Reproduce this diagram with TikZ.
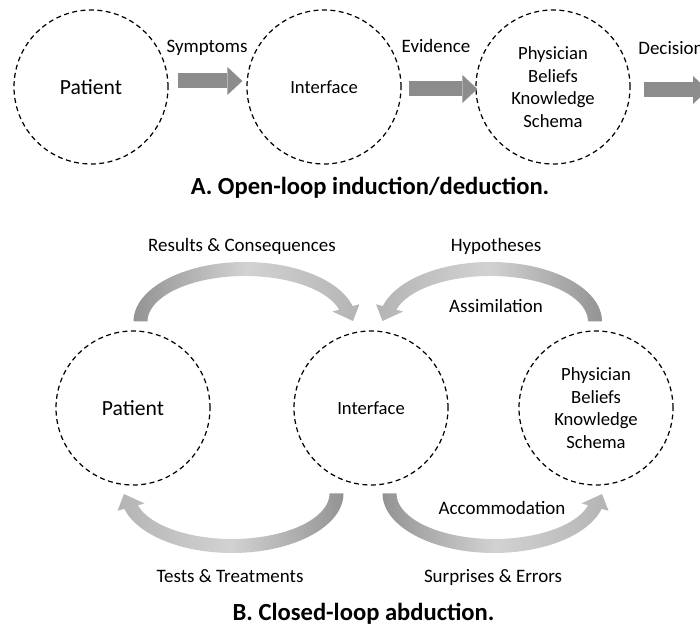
\documentclass[tikz,border=0pt]{standalone}
\usepackage{fontspec}
\setmainfont{Carlito}
\usetikzlibrary{arrows.meta}

\definecolor{blockgray}{HTML}{8C8C8C}
\definecolor{taildark}{HTML}{939393}
\definecolor{midlight}{HTML}{D2D2D2}
\definecolor{headlight}{HTML}{B4B4B4}

\tikzset{
    stage/.style={circle, draw=black, line width=0.7pt, dash pattern=on 2.8pt off 2pt,
        minimum size=3.08cm, inner sep=0pt, align=center,
        font=\fontsize{10.6}{12.9}\selectfont},
    bigstage/.style={stage, font=\fontsize{12.3}{14}\selectfont},
    flowlabel/.style={anchor=base, inner sep=0pt, font=\fontsize{10.8}{13}\selectfont},
    heading/.style={anchor=base, inner sep=0pt, font=\fontsize{14}{17}\selectfont\bfseries},
    blockarrow/.style={draw=blockgray, line width=0.3cm,
        -{Triangle[length=0.3cm, width=0.56cm, line width=0pt]}},
}

% shaded bent arrow: centre, start angle, end angle, tip, shading
\newcommand{\bandarrow}[5]{%
    \shade[shift={#1}, #5]
        (#2:2.23 and 1.19) arc[start angle=#2, end angle=#3, x radius=2.23, y radius=1.19]
        -- (#3:2.37 and 1.33) -- #4 -- (#3:1.81 and 0.77) -- (#3:1.95 and 0.91)
        arc[start angle=#3, end angle=#2, x radius=1.95, y radius=0.91] -- cycle;}

\begin{document}
\begin{tikzpicture}
    \useasboundingbox (0,0) rectangle (14,12.54);

    % A: open loop
    \node[bigstage] (patA) at (1.82,10.80) {Patient};
    \node[stage] (intA) at (6.48,10.80) {Interface};
    \node[stage] (phyA) at (11.06,10.80) {Physician\\Beliefs\\Knowledge\\Schema};
    \coordinate (outA) at (14.16,10.74);

    \draw[blockarrow] ([shift={(0.18,0.12)}]patA.east) -- ([shift={(-0.08,0.12)}]intA.west);
    \draw[blockarrow] ([shift={(0.14,-0.04)}]intA.east) -- ([shift={(0.04,-0.04)}]phyA.west);
    \draw[blockarrow] ([shift={(0.26,-0.06)}]phyA.east) -- (outA);

    \node[flowlabel] (symp) at (4.14,11.48) {Symptoms};
    \node[flowlabel] (evid) at (8.72,11.48) {Evidence};
    \node[flowlabel, anchor=base west] (deci) at (12.76,11.44) {Decision};

    \node[heading] (titleA) at (7.40,8.64) {A. Open-loop induction/deduction.};

    % B: closed loop
    \node[bigstage] (patB) at (2.66,4.38) {Patient};
    \node[stage] (intB) at (7.42,4.38) {Interface};
    \node[stage] (phyB) at (11.92,4.38) {Physician\\Beliefs\\Knowledge\\Schema};

    \bandarrow{(4.90,6.11)}{180}{15}{(2.16,0.01)}{left color=taildark, right color=headlight, middle color=midlight}
    \bandarrow{(9.81,6.11)}{0}{165}{(-2.16,0.01)}{left color=headlight, right color=taildark, middle color=midlight}
    \bandarrow{(4.64,2.67)}{360}{195}{(-2.16,-0.01)}{left color=headlight, right color=taildark, middle color=midlight}
    \bandarrow{(9.88,2.67)}{180}{345}{(2.16,-0.01)}{left color=taildark, right color=headlight, middle color=midlight}

    \node[flowlabel] (res) at (4.84,7.50) {Results \& Consequences};
    \node[flowlabel] (hyp) at (9.92,7.50) {Hypotheses};
    \node[flowlabel] (assim) at (9.92,6.28) {Assimilation};
    \node[flowlabel] (accom) at (10.04,2.25) {Accommodation};
    \node[flowlabel] (surp) at (9.86,0.88) {Surprises \& Errors};
    \node[flowlabel] (tests) at (4.60,0.88) {Tests \& Treatments};

    \node[heading] (titleB) at (7.27,0.13) {B. Closed-loop abduction.};
\end{tikzpicture}
\end{document}
